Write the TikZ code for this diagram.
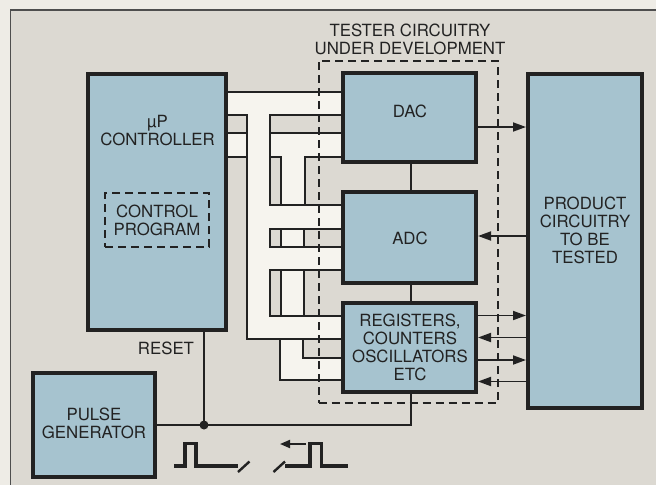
\documentclass[tikz,border=0pt]{standalone}
\usepackage{fontspec}
\setmainfont{TeX Gyre Heros}
\usetikzlibrary{arrows.meta}
\definecolor{outbg}{RGB}{238,236,230}
\definecolor{bg}{RGB}{220,217,210}
\definecolor{buswhite}{RGB}{246,244,238}
\definecolor{blockblue}{RGB}{166,195,207}
\definecolor{ink}{RGB}{34,34,34}
\begin{document}
\begin{tikzpicture}[x=1pt,y=-1pt,
  font=\fontsize{16.8}{18}\selectfont,
  block/.style={draw=ink, line width=4pt, fill=blockblue, inner sep=0pt},
  dashbox/.style={draw=ink, line width=2pt, dash pattern=on 8pt off 5pt, inner sep=0pt},
  wire/.style={draw=ink, line width=1.8pt},
  txt/.style={text=ink, align=center, inner sep=0pt},
  arr/.style={wire, -{Triangle[length=13pt,width=9pt]}},
  smallarr/.style={wire, -{Triangle[length=10pt,width=8pt]}},
  wave/.style={draw=ink, line width=3.4pt, line join=miter},
  slash/.style={draw=ink, line width=2.4pt},
]
\useasboundingbox (0,0) rectangle (656,485);
\fill[outbg] (0,0) rectangle (656,485);
\fill[bg] (10.5,10) rectangle (656,485);
\draw[ink!80, line width=1.6pt] (656,10) -- (10.5,10) -- (10.5,485);

% bus band fills
\fill[buswhite] (226,92) rectangle (343,115);
\fill[buswhite] (226,133) rectangle (247,157);
\fill[buswhite] (247,115) rectangle (343,339);
\fill[buswhite] (280,339) rectangle (343,380);
\fill[bg] (270,115) rectangle (343,133);
\fill[bg] (270,157) rectangle (281,205);
\fill[bg] (305,157) rectangle (343,205);
\fill[bg] (270,229) rectangle (281,247);
\fill[bg] (304,229) rectangle (343,247);
\fill[bg] (270,270) rectangle (281,316);
\fill[bg] (304,270) rectangle (343,316);
\fill[bg] (303,339) rectangle (343,358);

% blocks
\node[block, minimum width=138pt, minimum height=256pt] (ctrl) at (157,202) {};
\node[block, minimum width=133pt, minimum height=89pt] (dac) at (409.5,117.5) {};
\node[block, minimum width=133pt, minimum height=91pt] (adc) at (409.5,237.5) {};
\node[block, minimum width=133pt, minimum height=89pt] (reg) at (409.5,347.5) {};
\node[block, minimum width=114pt, minimum height=334pt] (prod) at (585,241) {};
\node[block, minimum width=122pt, minimum height=104pt] (pulse) at (94,425) {};
\node[dashbox, minimum width=104pt, minimum height=54pt] (prog) at (157,220) {};

% bus lines
\coordinate (b1) at (247,115);
\coordinate (b2) at (247,339);
\coordinate (c1) at (270,115);
\coordinate (c2) at (270,205);
\draw[wire] (ctrl.east |- 0,92) -- (dac.west |- 0,92);
\draw[wire] (ctrl.east |- b1) -- (b1) -- (b2) -- (reg.west |- b2);
\draw[wire] (ctrl.east |- 0,133) -- (247,133);
\draw[wire] (ctrl.east |- 0,157) -- (247,157);
\draw[wire] (dac.west |- c1) -- (c1) -- (c2) -- (adc.west |- c2);
\draw[wire] (270,133) -- (dac.west |- 0,133);
\draw[wire] (270,157) -- (281,157) -- (281,205);
\draw[wire] (dac.west |- 0,157) -- (305,157) -- (305,205);
\draw[wire] (adc.west |- 0,229) -- (270,229) -- (270,247) -- (adc.west |- 0,247);
\draw[wire] (281,229) -- (281,247);
\draw[wire] (304,229) -- (304,247);
\draw[wire] (adc.west |- 0,270) -- (270,270) -- (270,316) -- (reg.west |- 0,316);
\draw[wire] (281,270) -- (281,316);
\draw[wire] (304,270) -- (304,316);
\draw[wire] (280,339) -- (280,380) -- (reg.west |- 0,380);
\draw[wire] (303,339) -- (303,358) -- (reg.west |- 0,358);

% tester dashed box
\node[dashbox, minimum width=179pt, minimum height=342.5pt] (tester) at (408,231.75) {};

% vertical links and reset
\draw[wire] (dac.south -| 411,0) -- (adc.north -| 411,0);
\draw[wire] (adc.south -| 411,0) -- (reg.north -| 411,0);
\coordinate (jn) at (204,425);
\coordinate (rc) at (411,425);
\draw[wire] (ctrl.south -| jn) -- (jn);
\draw[wire] (pulse.east |- jn) -- (jn) -- (rc) -- (reg.south -| rc);
\fill[ink] (jn) circle (4.5pt);

% arrows to/from product
\draw[arr] (dac.east |- 0,127) -- (prod.west |- 0,127);
\draw[arr] (prod.west |- 0,236) -- (adc.east |- 0,236);
\draw[arr] (reg.east |- 0,315.5) -- (prod.west |- 0,315.5);
\draw[arr] (prod.west |- 0,337.5) -- (reg.east |- 0,337.5);
\draw[arr] (reg.east |- 0,360) -- (prod.west |- 0,360);
\draw[arr] (prod.west |- 0,381.5) -- (reg.east |- 0,381.5);

% texts
\node[txt] (testert) at (410,39.5) {TESTER CIRCUITRY\\UNDER DEVELOPMENT};
\node[txt] (ctrlt) at (157.5,130.5) {µP\\CONTROLLER};
\node[txt] (progt) at (157,220.5) {CONTROL\\PROGRAM};
\node[txt] (dact) at (410,111) {DAC};
\node[txt] (adct) at (410,238) {ADC};
\node[txt] (regt) at (410,347) {REGISTERS,\\COUNTERS\\OSCILLATORS\\ETC};
\node[txt] (prodt) at (585,230.5) {PRODUCT\\CIRCUITRY\\TO BE\\TESTED};
\node[txt] (pulset) at (94,423.5) {PULSE\\GENERATOR};
\node[txt] (resett) at (166,348) {RESET};

% pulse waveforms
\draw[wave] (174,466) -- (185,466) -- (185,443.5) -- (196,443.5) -- (196,466) -- (238,466);
\draw[slash] (238,472) -- (249.5,461.5);
\draw[slash] (273.5,472) -- (285,461.5);
\draw[wave] (285,466) -- (310,466) -- (310,443.5) -- (321.5,443.5) -- (321.5,466) -- (348,466);
\coordinate (wa) at (306,444);
\coordinate (wb) at (280,444);
\draw[smallarr] (wa) -- (wb);
\end{tikzpicture}
\end{document}
